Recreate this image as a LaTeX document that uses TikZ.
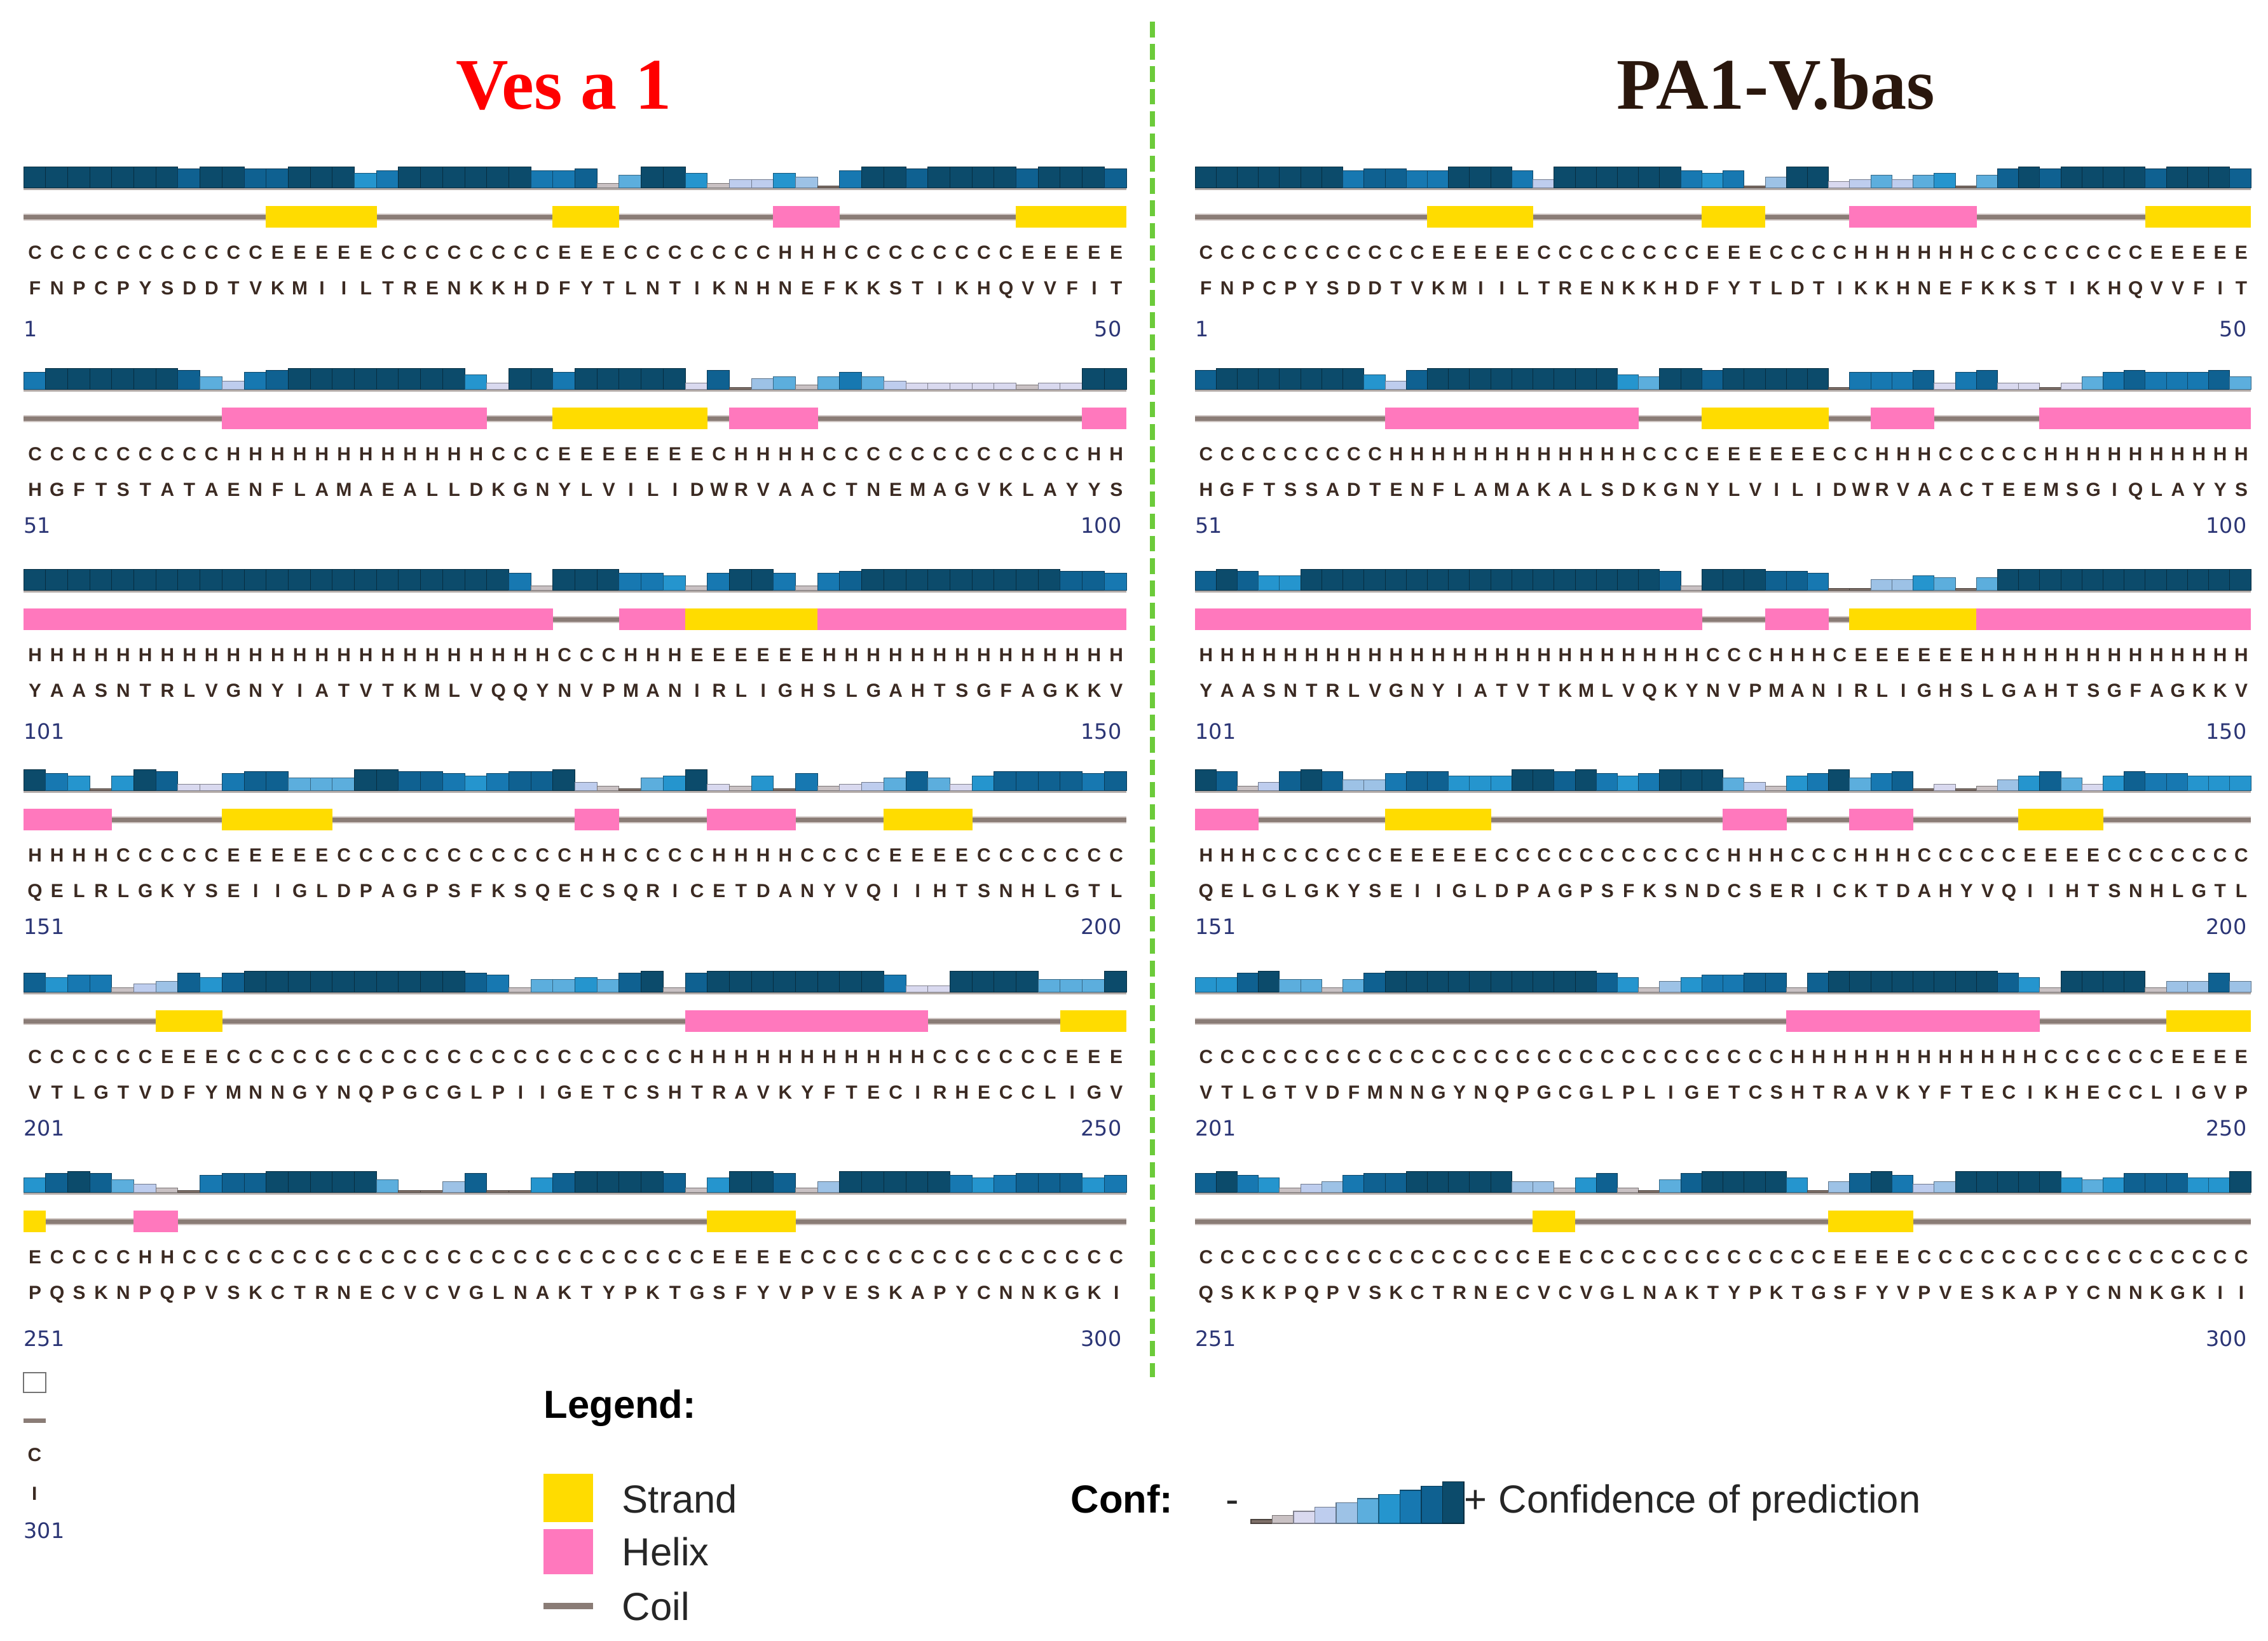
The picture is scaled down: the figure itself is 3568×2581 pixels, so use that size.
\documentclass[tikz,border=0pt]{standalone}
\usepackage{fontspec}
\setmainfont{Liberation Sans}
\newfontfamily\titlefont{Liberation Serif}
\newfontfamily\numfont{DejaVu Sans}
\definecolor{lev0}{HTML}{7E6F68}
\definecolor{lev1}{HTML}{C9C1C3}
\definecolor{lev2}{HTML}{D9D9EF}
\definecolor{lev3}{HTML}{BECDEE}
\definecolor{lev4}{HTML}{9DC2E6}
\definecolor{lev5}{HTML}{5CAEDD}
\definecolor{lev6}{HTML}{2595CE}
\definecolor{lev7}{HTML}{1778B1}
\definecolor{lev8}{HTML}{0F6191}
\definecolor{lev9}{HTML}{0C4B6B}
\definecolor{strandc}{HTML}{FFDC00}
\definecolor{helixc}{HTML}{FF78BD}
\definecolor{coilc}{HTML}{8A7C76}
\definecolor{coiledge}{HTML}{CFC6C3}
\definecolor{stripc}{HTML}{B3ABA8}
\definecolor{seqc}{HTML}{3B2A22}
\definecolor{numc}{HTML}{2B3575}
\definecolor{titleb}{HTML}{2A170D}
\definecolor{dashg}{HTML}{6CCB3A}
\newcount\rc
\newdimen\cwdim
\def\cx{37}\def\cw{34.7}\def\numend{1765}
\def\confbar#1{%
  \pgfmathsetmacro\xa{\cx+\the\rc*\cw}%
  \pgfmathsetmacro\xb{\xa+\cw}%
  \pgfmathsetmacro\yt{\cb-3-3.3*#1}%
  \filldraw[fill=lev#1,draw=lev#1!60!black,line width=0.25pt] (\xa,\cb) rectangle (\xb,\yt);}
\def\confiter#1{\ifx\relax#1\else\confbar{#1}\advance\rc by 1 \expandafter\confiter\fi}
\def\ssbox#1{%
  \pgfmathsetmacro\xa{\cx+\the\rc*\cw-0.4}%
  \pgfmathsetmacro\xb{\xa+\cw+0.8}%
  \if#1E\fill[strandc] (\xa,\cl-17) rectangle (\xb,\cl+17);\fi
  \if#1H\fill[helixc] (\xa,\cl-17) rectangle (\xb,\cl+17);\fi}
\def\ssiter#1{\ifx\relax#1\else\ssbox{#1}\advance\rc by 1 \expandafter\ssiter\fi}
\def\spreaditer#1{\ifx\relax#1\else\makebox[\cwdim][c]{#1}\expandafter\spreaditer\fi}
\def\spread#1{\spreaditer#1\relax}
\newcommand\seqblock[8]{%
  \def\cb{#2}\pgfmathsetmacro\cl{#2+46}%
  \fill[stripc] (\cx,#2) rectangle ({\cx+50*\cw},#2+4);
  \rc=0 \confiter#6\relax
  \fill[coiledge] (\cx,\cl-5.5) rectangle ({\cx+50*\cw},\cl+5.5);
  \fill[coilc] (\cx,\cl-3.5) rectangle ({\cx+50*\cw},\cl+3.5);
  \rc=0 \ssiter#4\relax
  \node[seqtxt] (ss#1) at (\cx,#2+112) {\spread{#4}};
  \node[seqtxt] (aa#1) at (\cx,#2+168) {\spread{#5}};
  \node[numtxt,anchor=base west] (ns#1) at (\cx,#3+12) {#7};
  \node[numtxt,anchor=base east] (ne#1) at (\numend,#3+12) {#8};
}
\tikzset{
  seqtxt/.style={inner sep=0pt,anchor=base west,text=seqc,font=\bfseries\fontsize{8.5pt}{8.5pt}\selectfont},
  numtxt/.style={inner sep=0pt,text=numc,font=\numfont\fontsize{9.5pt}{9.5pt}\selectfont},
  legtxt/.style={inner sep=0pt,anchor=base west,text=black!85,font=\fontsize{17.5pt}{17.5pt}\selectfont},
  legbold/.style={inner sep=0pt,anchor=base west,text=black,font=\bfseries\fontsize{17.5pt}{17.5pt}\selectfont},
  titletxt/.style={inner sep=0pt,anchor=base,font=\titlefont\bfseries\fontsize{32.5pt}{32.5pt}\selectfont}
}
\begin{document}
\begin{tikzpicture}[x=0.01cm,y=-0.01cm]
\useasboundingbox (0,0) rectangle (3568,2581);
\fill[white] (0,0) rectangle (3568,2581);
% titles
\node[titletxt,text=red] (t1) at (887,171) {Ves a 1};
\node[titletxt,text=titleb] (t2) at (2794,171) {PA1-V.bas};
% divider
\coordinate (d1) at (1813,34);
\coordinate (d2) at (1813,2166);
\draw[dashg,line width=2pt,dash pattern=on 7pt off 3pt] (d1) -- (d2);
% left panel
\def\cx{37}\def\cw{34.7}\cwdim=3.47mm\def\numend{1765}
\seqblock{L1}{295}{517}{CCCCCCCCCC CEEEEECCCC CCCCEEECCC CCCCHHHCCC CCCCCEEEEE}{FNPCPYSDDT VKMIILTREN KKHDFYTLNT IKNHNEFKKS TIKHQVVFIT}{99999998998899967999999778159961336407998999989998}{1}{50}
\seqblock{L2}{612}{826}{CCCCCCCCCH HHHHHHHHHH HCCCEEEEEE ECHHHHCCCC CCCCCCCCHH}{HGFTSTATAE NFLAMAEALL DKGNYLVILI DWRVAACTNE MAGVKLAYYS}{79999998537899999999629979999928045157532222212299}{51}{100}
\seqblock{L3}{928}{1150}{HHHHHHHHHH HHHHHHHHHH HHHHCCCHHH EEEEEEHHHH HHHHHHHHHH}{YAASNTRLVG NYIATVTKML VQQYNVPMAN IRLIGHSLGA HTSGFAGKKV}{99999999999999999999997199977617997178999999999887}{101}{150}
\seqblock{L4}{1243}{1457}{HHHHCCCCCE EEEECCCCCC CCCCCHHCCC CHHHHCCCCE EEECCCCCCC}{QELRLGKYSE IIGLDPAGPS FKSQECSQRI CETDANYVQI IHTSNHLGTL}{97606982278855599887678893105692160712358526888878}{151}{200}
\seqblock{L5}{1560}{1774}{CCCCCCEEEC CCCCCCCCCC CCCCCCCCCC HHHHHHHHHH HCCCCCCEEE}{VTLGTVDFYM NNGYNQPGCG LPIIGETCSH TRAVKYFTEC IRHECCLIGV}{86771348689999999999871556589189999999972299995559}{201}{250}
\seqblock{L6}{1875}{2105}{ECCCCHHCCC CCCCCCCCCC CCCCCCCCCC CEEEECCCCC CCCCCCCCCC}{PQSKNPQPVS KCTRNECVCV GLNAKTYPKT GSFYVPVESK APYCNNKGKI}{68985310788999995004800689999816998149999976788867}{251}{300}
% residue 301
\filldraw[fill=white,draw=black!55,line width=0.5pt] (37,2190) rectangle (71.7,2159);
\fill[coilc] (37,2230.5) rectangle (71.7,2237.5);
\node[seqtxt,anchor=base] (ss301) at (54.4,2298) {C};
\node[seqtxt,anchor=base] (aa301) at (54.4,2359) {I};
\node[numtxt,anchor=base west] (n301) at (37,2419) {301};
% right panel
\def\cx{1880}\def\cw{33.22}\cwdim=3.322mm\def\numend{3535}
\seqblock{R1}{295}{517}{CCCCCCCCCC CEEEEECCCC CCCCEEECCC CHHHHHHCCC CCCCCEEEEE}{FNPCPYSDDT VKMIILTREN KKHDFYTLDT IKKHNEFKKS TIKHQVVFIT}{99999997887799973999999767049923535605898999989998}{1}{50}
\seqblock{R2}{612}{826}{CCCCCCCCCH HHHHHHHHHH HCCCEEEEEE CCHHHCCCCC HHHHHHHHHH}{HGFTSSADTE NFLAMAKALS DKGNYLVILI DWRVAACTEE MSGIQLAYYS}{89999999638999999999659989999907778278220257877785}{51}{100}
\seqblock{R3}{928}{1150}{HHHHHHHHHH HHHHHHHHHH HHHHCCCHHH CEEEEEEHHH HHHHHHHHHH}{YAASNTRLVG NYIATVTKML VQKYNVPMAN IRLIGHSLGA HTSGFAGKKV}{89866999999999999999998199988700446505999999999999}{101}{150}
\seqblock{R4}{1243}{1457}{HHHCCCCCCE EEEECCCCCC CCCCCHHHCC CHHHCCCCCE EEECCCCCCC}{QELGLGKYSE IIGLDPAGPS FKSNDCSERI CKTDAHYVQI IHTSNHLGTL}{98138984478866699897679995316795780201468526877666}{151}{200}
\seqblock{R5}{1560}{1774}{CCCCCCCCCC CCCCCCCCCC CCCCCCCCHH HHHHHHHHHH CCCCCCEEEE}{VTLGTVDFMN NGYNQPGCGL PLIGETCSHT RAVKYFTECI KHECCLIGVP}{66895515899999999998614677881899999999861999914484}{201}{250}
\seqblock{R6}{1875}{2105}{CCCCCCCCCC CCCCCCEECC CCCCCCCCCC EEEECCCCCC CCCCCCCCCC}{QSKKPQPVSK CTRNECVCVG LNAKTYPKTG SFYVPVESKA PYCNNKGKII}{89761347889999944168105899996048973499999656888669}{251}{300}
% legend
\node[legbold] (leg) at (855,2230) {Legend:};
\fill[strandc] (855,2318) rectangle (933,2394);
\node[legtxt] (lstrand) at (978,2379) {Strand};
\fill[helixc] (855,2405) rectangle (933,2476);
\node[legtxt] (lhelix) at (978,2462) {Helix};
\fill[coilc] (855,2521) rectangle (933,2531);
\node[legtxt] (lcoil) at (978,2548) {Coil};
\node[legbold] (lconf) at (1684,2379) {Conf:};
\node[legtxt,anchor=base] (lminus) at (1939,2379) {-};
\foreach \l in {0,...,9} {
  \filldraw[fill=lev\l,draw=lev\l!60!black,line width=0.4pt] ({1968+\l*33.5},2396) rectangle ({1968+(\l+1)*33.5},{2396-6-6.6*\l});
}
\node[legtxt] (lplus) at (2303,2379) {+};
\node[legtxt] (lconfd) at (2357,2379) {Confidence of prediction};
\end{tikzpicture}
\end{document}
